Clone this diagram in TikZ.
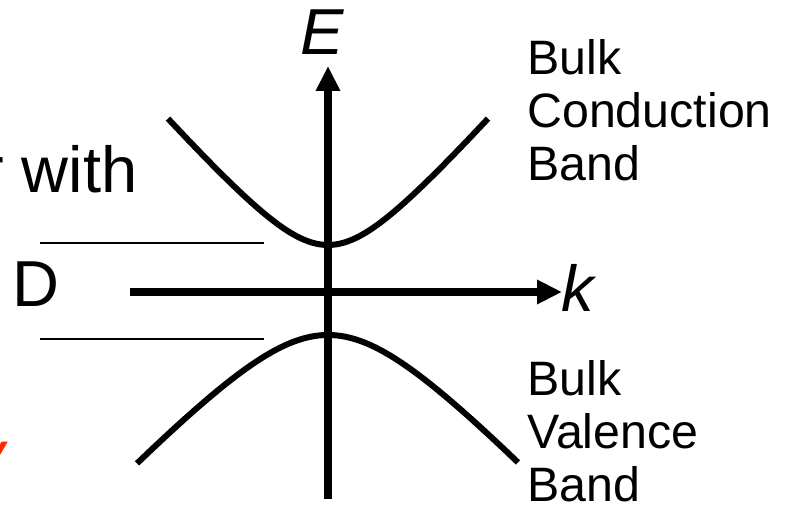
\documentclass[tikz,border=0pt]{standalone}
\usepackage{xcolor}
\usepackage{fontspec}
\setmainfont{Liberation Sans}
\usepackage{tikz}
\usetikzlibrary{arrows.meta,positioning}

\definecolor{slidered}{RGB}{255,38,0}

\begin{document}
\begin{tikzpicture}[
    x=0.02cm, y=-0.02cm,
    axis/.style={line width=0.15cm, -{Triangle[length=0.5cm,width=0.46cm]}},
    band/.style={line width=0.12cm, line cap=butt},
    level/.style={line width=0.035cm},
    bandlabel/.style={anchor=base west, inner sep=0, align=left, font=\fontsize{27.5}{30.4}\selectfont},
    axislabel/.style={inner sep=0, font=\fontsize{37}{40}\selectfont\itshape},
    slidetext/.style={inner sep=0, font=\fontsize{37}{42}\selectfont}
]
    \useasboundingbox (0,0) rectangle (792,509);

    % Axis ends
    \coordinate (origin) at (328,292);
    \coordinate (Ebottom) at (328,499);
    \coordinate (Etip) at (328,66);
    \coordinate (kleft) at (130,292);
    \coordinate (ktip) at (562,292);

    % Axes
    \draw[axis] (Ebottom) -- (Etip);
    \draw[axis] (kleft) -- (ktip);
    \node[axislabel, anchor=base] (E) at (322,55) {E};
    \node[axislabel, anchor=base west] (k) at (561,312) {k};

    % Bands (t in units of 10px)
    \draw[band] plot[domain=-16:16, samples=81, smooth]
        ({328+10*\x}, {245-11.4*(sqrt(36+\x*\x)-6)});
    \draw[band] plot[domain=-19.1:19, samples=81, smooth]
        ({328+10*\x}, {335+10.6*(sqrt(81+\x*\x)-9)});

    % Levels at the left
    \coordinate (uplevelL) at (40,243);
    \coordinate (uplevelR) at (264,243);
    \coordinate (lolevelL) at (40,339);
    \coordinate (lolevelR) at (264,339);
    \draw[level] (uplevelL) -- (uplevelR);
    \draw[level] (lolevelL) -- (lolevelR);

    % Band labels (anchored at the last line)
    \node[bandlabel] (cond) at (527,181) {Bulk\\Conduction\\Band};
    \node[bandlabel] (val) at (527,502) {Bulk\\Valence\\Band};

    % Slide text cut off at the left
    \node[slidetext, anchor=base east] (with) at (138,193) {r with};
    \node[slidetext, anchor=base west] (dtext) at (12,307) {D};
    \node[slidetext, anchor=base east, text=slidered] (redtext) at (5,477) {\itshape y};
\end{tikzpicture}
\end{document}
